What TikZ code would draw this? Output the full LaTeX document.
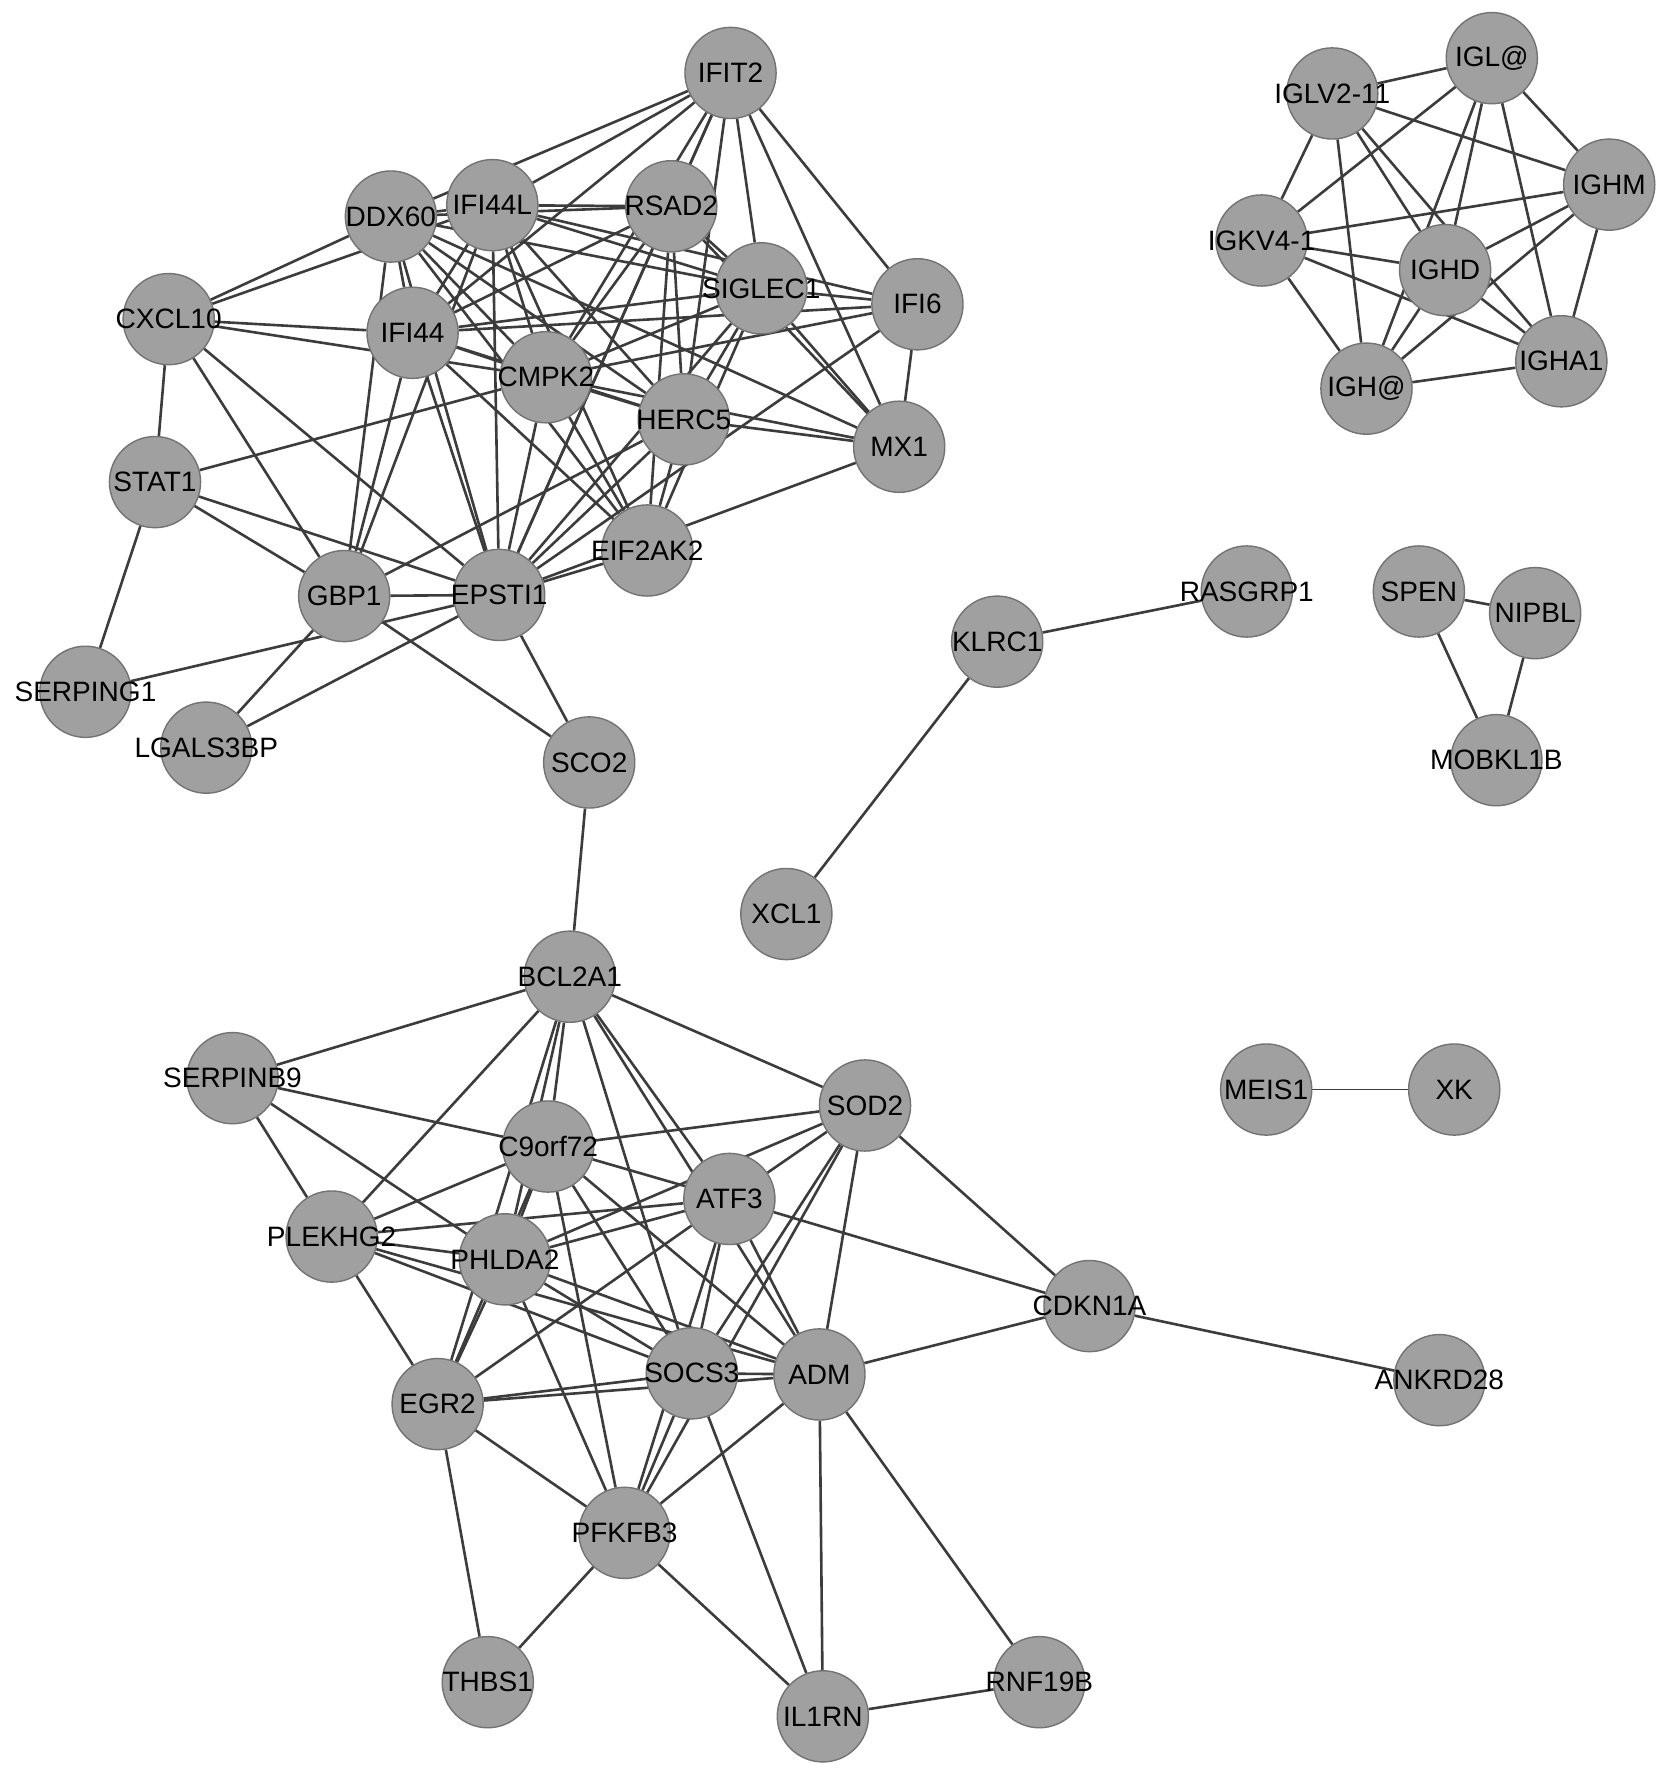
\documentclass[tikz,border=0pt]{standalone}
\usepackage{fontspec}
\setmainfont{Liberation Sans}
\usetikzlibrary{backgrounds}
\definecolor{nodegray}{RGB}{160,160,160}
\definecolor{edgegray}{RGB}{60,60,60}
\definecolor{rimgray}{RGB}{115,115,115}
\begin{document}
\begin{tikzpicture}[x=0.1mm,y=-0.1mm,
  gene/.style={circle,draw=rimgray,line width=0.35pt,fill=nodegray,minimum size=8mm,inner sep=0pt,
    label={[font=\fontsize{7}{8}\selectfont,inner sep=0pt]center:#1}},
  link/.style={draw=edgegray,line width=0.65pt},
  faint link/.style={draw=edgegray,line width=0.35pt}]
\useasboundingbox (0,0) rectangle (1471,1568);
% ---- interferon cluster
\node[gene=IFIT2] (IFIT2) at (641,64) {};
\node[gene=DDX60] (DDX60) at (343,190) {};
\node[gene=IFI44L] (IFI44L) at (432,180) {};
\node[gene=RSAD2] (RSAD2) at (589,181) {};
\node[gene=SIGLEC1] (SIGLEC1) at (668,253) {};
\node[gene=IFI6] (IFI6) at (805,267) {};
\node[gene=CXCL10] (CXCL10) at (148,280) {};
\node[gene=IFI44] (IFI44) at (362,292) {};
\node[gene=CMPK2] (CMPK2) at (479,331) {};
\node[gene=HERC5] (HERC5) at (600,368) {};
\node[gene=MX1] (MX1) at (789,392) {};
\node[gene=STAT1] (STAT1) at (136,423) {};
\node[gene=EIF2AK2] (EIF2AK2) at (568,483) {};
\node[gene=GBP1] (GBP1) at (302,523) {};
\node[gene=EPSTI1] (EPSTI1) at (438,522) {};
\node[gene=SERPING1] (SERPING1) at (75,607) {};
\node[gene=LGALS3BP] (LGALS3BP) at (181,656) {};
\node[gene=SCO2] (SCO2) at (517,669) {};
% ---- immunoglobulin cluster
\node[gene=IGL@] (IGLat) at (1309,51) {};
\node[gene=IGLV2-11] (IGLV) at (1169,82) {};
\node[gene=IGHM] (IGHM) at (1412,162) {};
\node[gene=IGKV4-1] (IGKV) at (1107,211) {};
\node[gene=IGHD] (IGHD) at (1268,237) {};
\node[gene=IGHA1] (IGHA1) at (1370,317) {};
\node[gene=IGH@] (IGHat) at (1199,341) {};
% ---- small components
\node[gene=KLRC1] (KLRC1) at (875,563) {};
\node[gene=RASGRP1] (RASGRP1) at (1094,519) {};
\node[gene=XCL1] (XCL1) at (690,802) {};
\node[gene=SPEN] (SPEN) at (1245,519) {};
\node[gene=NIPBL] (NIPBL) at (1347,538) {};
\node[gene=MOBKL1B] (MOBKL1B) at (1313,667) {};
\node[gene=MEIS1] (MEIS1) at (1111,956) {};
\node[gene=XK] (XK) at (1276,956) {};
% ---- lower cluster
\node[gene=BCL2A1] (BCL2A1) at (500,857) {};
\node[gene=SERPINB9] (SERPINB9) at (204,946) {};
\node[gene=SOD2] (SOD2) at (759,970) {};
\node[gene=C9orf72] (C9orf72) at (481,1006) {};
\node[gene=ATF3] (ATF3) at (640,1052) {};
\node[gene=PLEKHG2] (PLEKHG2) at (291,1085) {};
\node[gene=PHLDA2] (PHLDA2) at (443,1105) {};
\node[gene=CDKN1A] (CDKN1A) at (956,1146) {};
\node[gene=SOCS3] (SOCS3) at (607,1205) {};
\node[gene=ADM] (ADM) at (719,1206) {};
\node[gene=ANKRD28] (ANKRD28) at (1263,1211) {};
\node[gene=EGR2] (EGR2) at (384,1232) {};
\node[gene=PFKFB3] (PFKFB3) at (548,1345) {};
\node[gene=THBS1] (THBS1) at (428,1476) {};
\node[gene=IL1RN] (IL1RN) at (722,1506) {};
\node[gene=RNF19B] (RNF19B) at (912,1476) {};
\begin{pgfonlayer}{background}
\fill[white] (0,0) rectangle (1471,1568);
\foreach \a/\b in {
 IFIT2/DDX60, IFIT2/IFI44L, IFIT2/IFI44, IFIT2/RSAD2, IFIT2/CMPK2, IFIT2/EPSTI1,
 IFIT2/HERC5, IFIT2/SIGLEC1, IFIT2/MX1, IFIT2/IFI6,
 DDX60/IFI44L, DDX60/RSAD2, DDX60/IFI44, DDX60/CMPK2, DDX60/HERC5, DDX60/EIF2AK2,
 DDX60/EPSTI1, DDX60/GBP1, DDX60/CXCL10, DDX60/SIGLEC1, DDX60/MX1,
 IFI44L/RSAD2, IFI44L/IFI44, IFI44L/CMPK2, IFI44L/HERC5, IFI44L/EIF2AK2, IFI44L/EPSTI1,
 IFI44L/GBP1, IFI44L/CXCL10, IFI44L/SIGLEC1, IFI44L/IFI6,
 RSAD2/IFI44, RSAD2/CMPK2, RSAD2/HERC5, RSAD2/EIF2AK2, RSAD2/EPSTI1, RSAD2/SIGLEC1, RSAD2/MX1,
 SIGLEC1/IFI44, SIGLEC1/CMPK2, SIGLEC1/HERC5, SIGLEC1/EIF2AK2, SIGLEC1/EPSTI1,
 SIGLEC1/IFI6, SIGLEC1/MX1,
 IFI6/IFI44, IFI6/CMPK2, IFI6/EPSTI1, IFI6/MX1,
 IFI44/CXCL10, IFI44/CMPK2, IFI44/HERC5, IFI44/EIF2AK2, IFI44/EPSTI1, IFI44/GBP1,
 CMPK2/HERC5, CMPK2/EIF2AK2, CMPK2/EPSTI1, CMPK2/STAT1, CMPK2/CXCL10, CMPK2/MX1,
 HERC5/EIF2AK2, HERC5/MX1, HERC5/EPSTI1, HERC5/GBP1,
 EIF2AK2/EPSTI1,
 EPSTI1/GBP1, EPSTI1/STAT1, EPSTI1/CXCL10, EPSTI1/SCO2, EPSTI1/LGALS3BP,
 EPSTI1/SERPING1, EPSTI1/MX1,
 GBP1/STAT1, GBP1/SCO2, GBP1/LGALS3BP, GBP1/CXCL10,
 STAT1/SERPING1, STAT1/CXCL10,
 SCO2/BCL2A1,
 IGLV/IGLat, IGLV/IGHM, IGLV/IGKV, IGLV/IGHat, IGLV/IGHD, IGLV/IGHA1,
 IGLat/IGKV, IGLat/IGHD, IGLat/IGHat, IGLat/IGHA1, IGLat/IGHM,
 IGHM/IGKV, IGHM/IGHD, IGHM/IGHat, IGHM/IGHA1,
 IGKV/IGHD, IGKV/IGHA1, IGKV/IGHat,
 IGHD/IGHat, IGHD/IGHA1, IGHat/IGHA1,
 KLRC1/RASGRP1, KLRC1/XCL1, SPEN/NIPBL, SPEN/MOBKL1B, NIPBL/MOBKL1B,
 BCL2A1/SERPINB9, BCL2A1/PLEKHG2, BCL2A1/C9orf72, BCL2A1/PHLDA2, BCL2A1/EGR2,
 BCL2A1/SOCS3, BCL2A1/ATF3, BCL2A1/ADM, BCL2A1/SOD2,
 SERPINB9/C9orf72, SERPINB9/PHLDA2, SERPINB9/PLEKHG2,
 PLEKHG2/C9orf72, PLEKHG2/ATF3, PLEKHG2/PHLDA2, PLEKHG2/SOCS3, PLEKHG2/ADM, PLEKHG2/EGR2,
 C9orf72/SOD2, C9orf72/ATF3, C9orf72/PHLDA2, C9orf72/EGR2, C9orf72/PFKFB3,
 C9orf72/SOCS3, C9orf72/ADM,
 SOD2/ATF3, SOD2/PHLDA2, SOD2/SOCS3, SOD2/ADM, SOD2/CDKN1A, SOD2/PFKFB3,
 ATF3/PHLDA2, ATF3/EGR2, ATF3/CDKN1A, ATF3/SOCS3, ATF3/PFKFB3, ATF3/ADM,
 PHLDA2/EGR2, PHLDA2/SOCS3, PHLDA2/ADM, PHLDA2/PFKFB3,
 EGR2/SOCS3, EGR2/ADM, EGR2/PFKFB3, EGR2/THBS1,
 SOCS3/ADM, SOCS3/PFKFB3, SOCS3/IL1RN,
 PFKFB3/ADM, PFKFB3/IL1RN, PFKFB3/THBS1,
 ADM/CDKN1A, ADM/IL1RN, ADM/RNF19B,
 IL1RN/RNF19B, CDKN1A/ANKRD28}
 \draw[link] (\a) -- (\b);
\draw[faint link] (MEIS1) -- (XK);
\end{pgfonlayer}
\end{tikzpicture}
\end{document}
